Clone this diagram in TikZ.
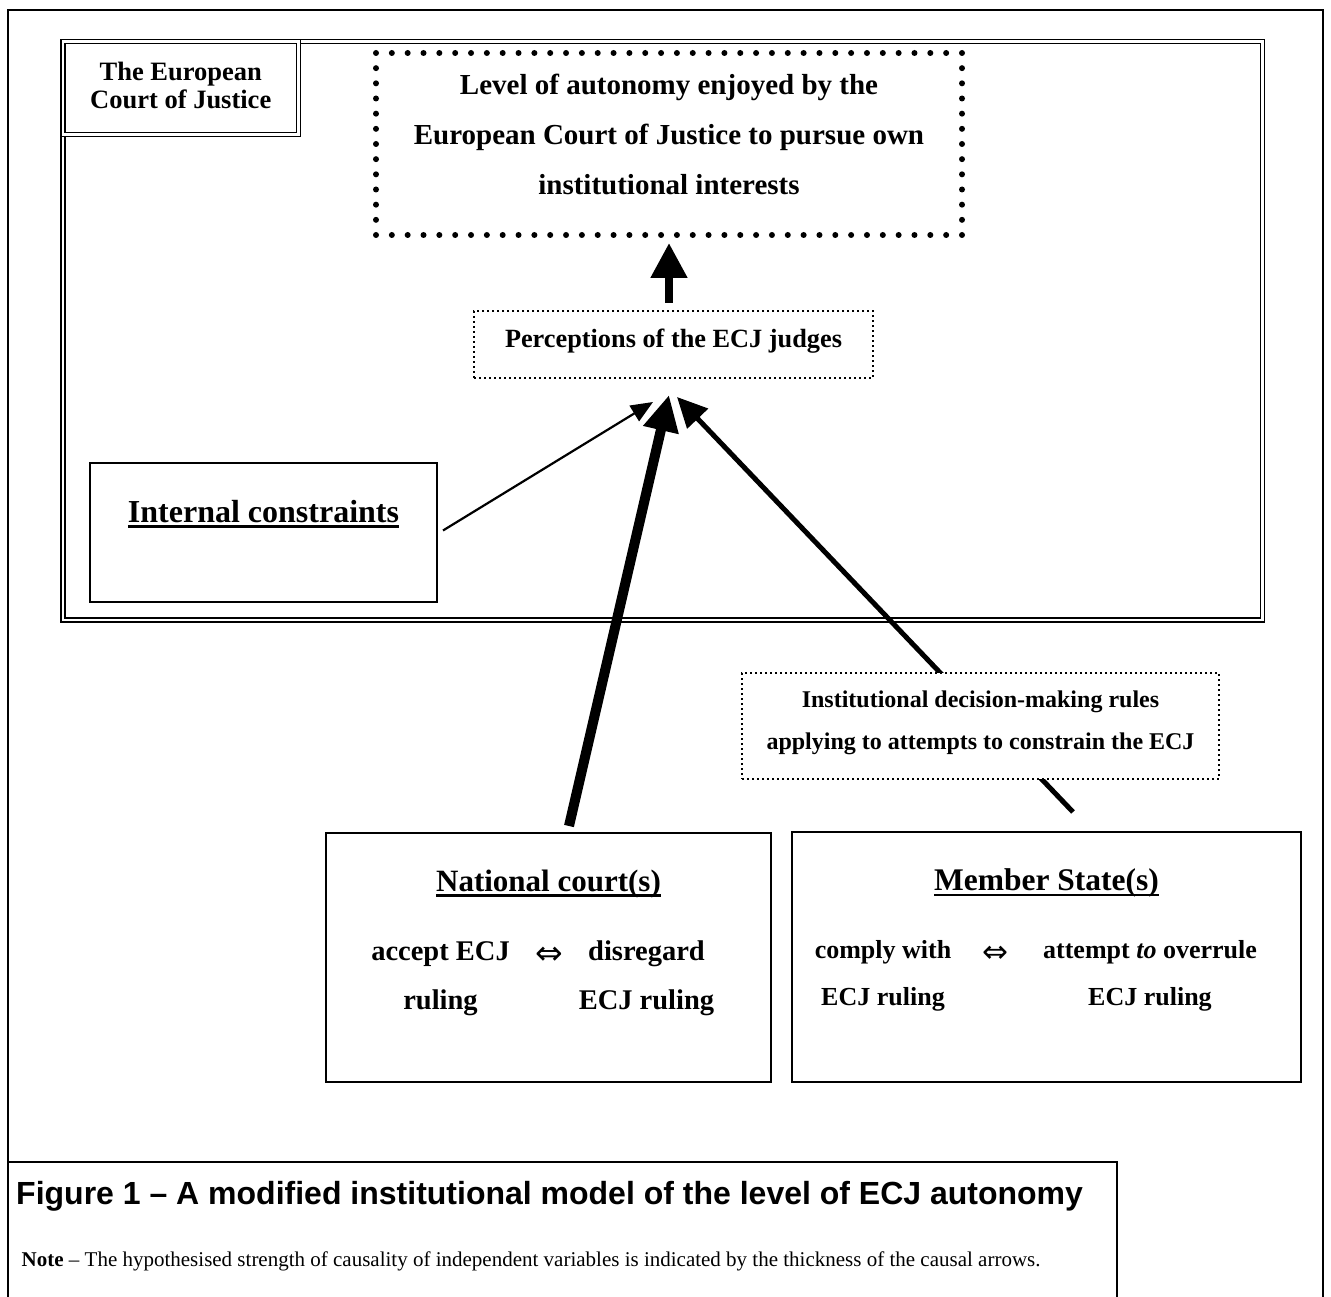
\documentclass[tikz,border=0pt]{standalone}
\usepackage{fontspec}
\setmainfont{Liberation Serif}
\newfontfamily\sansf{Liberation Sans}
\newfontfamily\djv{DejaVu Sans}
\usetikzlibrary{arrows.meta,calc}
\newcommand\myul[1]{\setbox0=\hbox{#1}\rlap{\rule[-5.5pt]{\wd0}{2.4pt}}\box0}
\newcommand\lraN{\raisebox{-4pt}{\djv\mdseries\fontsize{33}{24}\selectfont ⇔}}
\newcommand\lraM{\raisebox{-4pt}{\djv\mdseries\fontsize{31}{22}\selectfont ⇔}}
\begin{document}
\begin{tikzpicture}[x=1pt,y=-1pt,
  frame/.style={line width=2pt},
  dframe/.style={draw, double, double distance=2.4pt, line width=1.7pt, inner sep=0pt, outer sep=0pt},
  solidbox/.style={draw, line width=2.8pt, inner sep=0pt, outer sep=0pt, fill=white, align=center},
  finedot/.style={draw, line width=1.6pt, dash pattern=on 1.6pt off 3.4pt, inner sep=0pt, outer sep=0pt, fill=white, align=center},
  arrA/.style={line width=2.2pt, -{Triangle[length=22pt,width=18pt]}},
  arrB/.style={line width=5pt, -{Triangle[length=30pt,width=28pt]}},
  arrC/.style={line width=10pt, -{Triangle[length=36pt,width=34pt]}},
  arrD/.style={line width=8pt, -{Triangle[length=35pt,width=35pt]}},
  captxt/.style={inner sep=0pt, anchor=base west}
]
\useasboundingbox (0,0) rectangle (1331,1297);
\fill[white] (0,0) rectangle (1331,1297);
% outer frame
\draw[frame] (8,1320) -- (8,10) -- (1323,10) -- (1323,1320);
% ECJ frame
\node[dframe, minimum width=1199.5pt, minimum height=578.5pt] (ecj) at (662.75,330.75) {};
\node[dframe, fill=white, minimum width=235.5pt, minimum height=93pt, align=center,
      font=\bfseries\fontsize{26.5}{28.3}\selectfont] (ecjlab) at (180.75,88)
      {The European\\Court of Justice\rule[-6pt]{0pt}{6pt}};
% autonomy box
\node[inner sep=0pt, outer sep=0pt, minimum width=586pt, minimum height=182pt, align=center,
      font=\bfseries\fontsize{29}{50}\selectfont] (aut) at (669,144)
      {Level of autonomy enjoyed by the\\European Court of Justice to pursue own\\institutional interests\rule[-20pt]{0pt}{20pt}};
\foreach \i in {0,...,37} {
  \fill ($(aut.north west)!\i/37!(aut.north east)$) circle (3pt);
  \fill ($(aut.south west)!\i/37!(aut.south east)$) circle (3pt);
}
\foreach \j in {1,...,11} {
  \fill ($(aut.north west)!\j/12!(aut.south west)$) circle (3pt);
  \fill ($(aut.north east)!\j/12!(aut.south east)$) circle (3pt);
}
% perceptions
\node[finedot, minimum width=399pt, minimum height=67pt,
      font=\bfseries\fontsize{26.3}{30}\selectfont] (perc) at (673.5,344.5)
      {Perceptions of the ECJ judges\rule[-13pt]{0pt}{13pt}};
\draw[arrD] ($(aut.south |- perc.north)+(0,-8)$) -- ($(aut.south)+(0,8)$);
% internal constraints
\node[solidbox, minimum width=347pt, minimum height=139pt,
      font=\bfseries\fontsize{32}{36}\selectfont] (ic) at (263.5,532.5)
      {\myul{Internal constraints}\rule[-43pt]{0pt}{43pt}};
\draw[arrA] ($(ic.east)+(6,-2)$) -- ($(perc.south)+(-20.5,24)$);
% national courts
\node[solidbox, minimum width=445pt, minimum height=249pt,
      font=\bfseries\fontsize{28.5}{49}\selectfont] (nc) at (548.5,957.5)
      {{\fontsize{31}{49}\selectfont\myul{National court(s)}}\\[20pt]%
       \makebox[164pt]{accept ECJ}\makebox[54pt]{\lraN}\makebox[140pt]{disregard}\makebox[22pt]{}\\
       \makebox[164pt]{ruling}\makebox[54pt]{}\makebox[140pt]{ECJ ruling}\makebox[22pt]{}\rule[-36pt]{0pt}{36pt}};
% member states
\node[solidbox, minimum width=509pt, minimum height=250pt,
      font=\bfseries\fontsize{26}{47}\selectfont] (ms) at (1046.5,957)
      {{\fontsize{31.5}{47}\selectfont\myul{Member State(s)}}\\[21pt]%
       \makebox[160pt]{comply with}\makebox[64pt]{\lraM}\makebox[246pt]{attempt \textit{to} overrule}\makebox[17pt]{}\\
       \makebox[160pt]{ECJ ruling}\makebox[64pt]{}\makebox[246pt]{ECJ ruling}\makebox[17pt]{}\rule[-39pt]{0pt}{39pt}};
% member state arrow (passes beneath the rules box)
\draw[arrB] ($(ms.north)+(26.5,-20)$) -- ($(perc.south)+(3.5,19)$);
\node[finedot, minimum width=477pt, minimum height=106pt,
      font=\bfseries\fontsize{24}{42.3}\selectfont] (inst) at (980.5,726)
      {Institutional decision-making rules\\applying to attempts to constrain the ECJ\rule[-12pt]{0pt}{12pt}};
% national court arrow
\draw[arrC] ($(nc.north)+(20.5,-7)$) -- ($(perc.south)+(-4.5,17)$);
% caption
\draw[line width=1.5pt] (8,1162) -- (1117,1162) -- (1117,1320);
\node[captxt, font=\sansf\bfseries\fontsize{32}{36}\selectfont] (capT) at (16,1204)
      {Figure 1 – A modified institutional model of the level of ECJ autonomy};
\node[captxt, font=\fontsize{21}{24}\selectfont] (capN) at (21.5,1266)
      {\textbf{Note} – The hypothesised strength of causality of independent variables is indicated by the thickness of the causal arrows.};
\end{tikzpicture}
\end{document}
